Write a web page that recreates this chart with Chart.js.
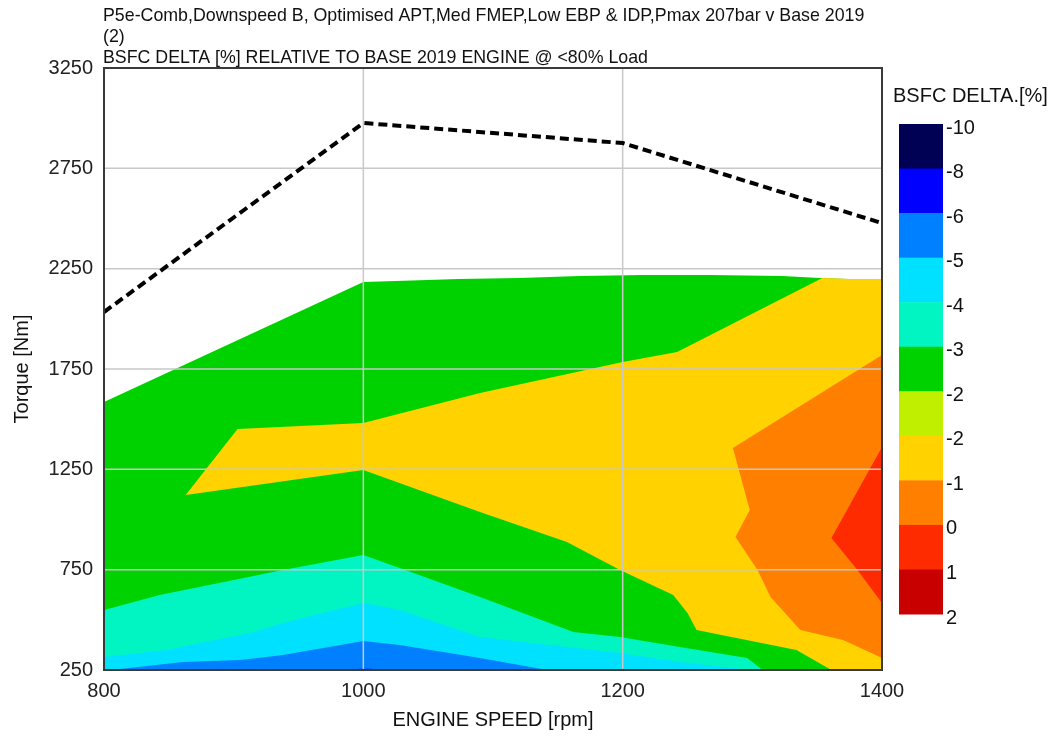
<!DOCTYPE html>
<html><head><meta charset="utf-8">
<script src="https://cdn.jsdelivr.net/npm/chart.js@4/dist/chart.umd.min.js"></script>
<style>html,body{margin:0;padding:0;background:#fff}canvas{display:block}</style>
</head><body>
<canvas id="c" width="1060" height="740"></canvas>
<script>
// ---------- data ----------
const titleLines = [
  'P5e-Comb,Downspeed B, Optimised APT,Med FMEP,Low EBP & IDP,Pmax 207bar v Base 2019',
  '(2)',
  'BSFC DELTA [%] RELATIVE TO BASE 2019 ENGINE @ <80% Load'
];
const xTitle = 'ENGINE SPEED [rpm]';
const yTitle = 'Torque [Nm]';
const legendTitle = 'BSFC DELTA.[%]';

const speedTicks = [800, 1000, 1200, 1400];
const torqueTicks = [250, 750, 1250, 1750, 2250, 2750, 3250];

// full load curve (dashed)
const fullLoadSpeed = [800, 1000, 1200, 1400];
const fullLoadTorque = [2034, 2976, 2876, 2477];

// contour bands (boundary polygons, speed rpm / torque Nm)
const greenSpeed  = [800, 1000, 1025, 1073, 1120, 1167, 1215, 1268, 1323, 1352, 1375, 1400, 1400, 800];
const greenTorque = [1585, 2183, 2188, 2198, 2203, 2213, 2218, 2218, 2213, 2203, 2198, 2198, 250, 250];

const goldSpeed  = [863, 903, 1000, 1090, 1200, 1242, 1354, 1375, 1400, 1400, 1361, 1334, 1257, 1250, 1239, 1198, 1157, 1090, 1000];
const goldTorque = [1122, 1451, 1481, 1630, 1785, 1835, 2203, 2198, 2198, 250, 250, 350, 449, 534, 624, 748, 888, 1037, 1247];

const orangeSpeed  = [1400, 1285, 1298, 1287, 1304, 1314, 1337, 1370, 1400];
const orangeTorque = [1820, 1356, 1047, 913, 748, 614, 449, 400, 310];

const redSpeed  = [1400, 1373, 1361, 1381, 1400];
const redTorque = [1361, 1047, 908, 748, 584];

const aquaSpeed  = [800, 843, 938, 1000, 1028, 1090, 1162, 1198, 1244, 1296, 1308, 800];
const aquaTorque = [549, 624, 748, 823, 758, 614, 439, 414, 365, 310, 250, 250];

const cyanSpeed  = [800, 849, 874, 913, 938, 1000, 1028, 1090, 1198, 1244, 1298, 800];
const cyanTorque = [315, 350, 385, 434, 484, 584, 549, 414, 335, 290, 250, 250];

const blueSpeed  = [805, 861, 905, 938, 1000, 1028, 1090, 1142];
const blueTorque = [250, 290, 300, 325, 395, 375, 310, 250];

const deepBlueSpeed  = [993, 997, 1006, 1010];
const deepBlueTorque = [250, 256, 256, 250];

// colour scale
const levelLabels = ['-10', '-8', '-6', '-5', '-4', '-3', '-2', '-2', '-1', '0', '1', '2'];
const levelColors = ['#000055', '#0000ff', '#0080ff', '#00e1ff', '#00f5c3', '#00d200', '#c0f000', '#ffd200', '#ff8000', '#ff2b00', '#c80000'];

// ---------- chart ----------
const FONT = "'Liberation Sans', Arial, sans-serif";
Chart.defaults.font.family = FONT;
Chart.defaults.color = '#1a1a1a';

function band(sx, ty, color, order) {
  return {
    data: sx.map((x, i) => ({x: x, y: ty[i]})),
    showLine: true, fill: 'shape', tension: 0,
    backgroundColor: color, borderColor: color, borderWidth: 0,
    pointRadius: 0, pointHoverRadius: 0, order: order
  };
}

const datasets = [
  band(greenSpeed, greenTorque, levelColors[5], 20),
  band(goldSpeed, goldTorque, levelColors[7], 19),
  band(orangeSpeed, orangeTorque, levelColors[8], 18),
  band(redSpeed, redTorque, levelColors[9], 17),
  band(aquaSpeed, aquaTorque, levelColors[4], 16),
  band(cyanSpeed, cyanTorque, levelColors[3], 15),
  band(blueSpeed, blueTorque, levelColors[2], 14),
  band(deepBlueSpeed, deepBlueTorque, levelColors[1], 13),
  {
    data: fullLoadSpeed.map((x, i) => ({x: x, y: fullLoadTorque[i]})),
    showLine: true, fill: false, tension: 0,
    borderColor: '#000', borderWidth: 4, borderDash: [9, 5],
    pointRadius: 0, pointHoverRadius: 0, order: 0
  }
];
const LINE_INDEX = datasets.length - 1;

const decor = {
  id: 'decor',
  beforeDatasetDraw(chart, args) {
    if (args.index !== LINE_INDEX) return;
    const {ctx, chartArea: a, scales: {x, y}} = chart;
    ctx.save();
    ctx.strokeStyle = '#c8c8c8';
    ctx.lineWidth = 1.5;
    ctx.beginPath();
    torqueTicks.forEach(v => { const p = y.getPixelForValue(v); ctx.moveTo(a.left, p); ctx.lineTo(a.right, p); });
    speedTicks.forEach(v => { const p = x.getPixelForValue(v); ctx.moveTo(p, a.top); ctx.lineTo(p, a.bottom); });
    ctx.stroke();
    ctx.restore();
  },
  afterDraw(chart) {
    const {ctx, chartArea: a} = chart;
    ctx.save();
    // frame
    ctx.strokeStyle = '#3a3a3a';
    ctx.lineWidth = 2;
    ctx.strokeRect(a.left, a.top, a.right - a.left, a.bottom - a.top);
    // titles
    ctx.fillStyle = '#111';
    ctx.textBaseline = 'middle';
    ctx.textAlign = 'left';
    ctx.font = '17.8px ' + FONT;
    titleLines.forEach((t, i) => ctx.fillText(t, a.left - 1, 16 + i * 21));
    // colour bar legend
    ctx.font = '20px ' + FONT;
    ctx.fillText(legendTitle, 893, 96);
    const bx = 899, bw = 44, top = 124, h = 490;
    const step = h / levelColors.length;
    levelColors.forEach((c, i) => {
      ctx.fillStyle = c;
      ctx.fillRect(bx, top + i * step, bw, step + 0.5);
    });
    ctx.fillStyle = '#111';
    levelLabels.forEach((l, i) => ctx.fillText(l, bx + bw + 3, top + i * step + 4));
    ctx.restore();
  }
};

new Chart(document.getElementById('c'), {
  type: 'scatter',
  data: {datasets: datasets},
  options: {
    responsive: false,
    animation: false,
    events: [],
    layout: {padding: {top: 68, right: 178, left: 0, bottom: 0}},
    plugins: {legend: {display: false}, tooltip: {enabled: false}, title: {display: false}},
    scales: {
      x: {
        type: 'linear', min: 800, max: 1400,
        afterBuildTicks: s => { s.ticks = speedTicks.map(v => ({value: v})); },
        afterFit: s => { s.height = 70; },
        grid: {display: false, drawTicks: false},
        border: {display: false},
        ticks: {font: {size: 20}, color: '#222', padding: 9, maxRotation: 0, autoSkip: false,
                callback: v => String(v)},
        title: {display: true, text: xTitle, font: {size: 20}, color: '#111', padding: {top: 0, bottom: 8}}
      },
      y: {
        type: 'linear', min: 250, max: 3250,
        afterBuildTicks: s => { s.ticks = torqueTicks.map(v => ({value: v})); },
        afterFit: s => { s.width = 104; },
        grid: {display: false, drawTicks: false},
        border: {display: false},
        ticks: {font: {size: 20}, color: '#222', padding: 11, autoSkip: false,
                callback: v => String(v)},
        title: {display: true, text: yTitle, font: {size: 20}, color: '#111', padding: {top: 10, bottom: 0}}
      }
    }
  },
  plugins: [decor]
});
</script>
</body></html>
